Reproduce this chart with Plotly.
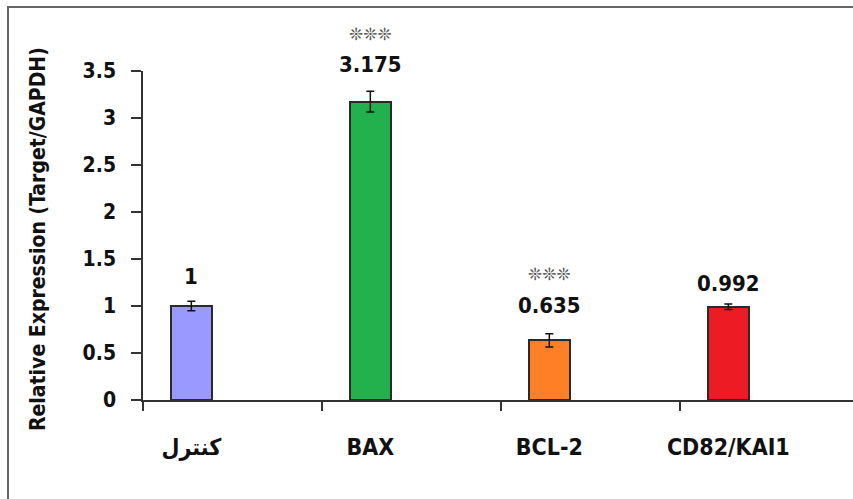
import plotly.graph_objects as go

categories = ["كنترل", "BAX", "BCL-2", "CD82/KAI1"]
values = [1.0, 3.175, 0.635, 0.992]
errors = [0.05, 0.11, 0.07, 0.03]
value_labels = ["1", "3.175", "0.635", "0.992"]
significance = ["", "❊❊❊", "❊❊❊", ""]
colors = ["#9999FF", "#22B14C", "#FF7F27", "#ED1C24"]
y_ticks = [0, 0.5, 1, 1.5, 2, 2.5, 3, 3.5]
y_ticktext = ["0", "0.5", "1", "1.5", "2", "2.5", "3", "3.5"]

W, H = 853, 499
ML, MR, MT, MB = 143, 0, 71, 99
FONT = "DejaVu Sans Condensed, DejaVu Sans, sans-serif"

bar_offset = 0.27  # bar centre within category slot
bar_width = 0.23
xpos = [i + bar_offset for i in range(len(categories))]

label_shift = [30, 37, 35, 23]
star_shift = [0, 68, 66, 0]

fig = go.Figure()
fig.add_trace(go.Bar(
    x=xpos, y=values, width=bar_width,
    marker=dict(color=colors, line=dict(color="#2a2a2a", width=2)),
    error_y=dict(type="data", array=errors, visible=True,
                 color="#111111", thickness=1.5, width=4),
    hoverinfo="skip",
))

annotations = []
for xp, v, lab, sh in zip(xpos, values, value_labels, label_shift):
    annotations.append(dict(x=xp, y=v, xref="x", yref="y", text=lab,
                            showarrow=False, yshift=sh, xanchor="center", yanchor="middle",
                            font=dict(family=FONT, size=22, color="#111111", weight="bold")))
for xp, v, s, sh in zip(xpos, values, significance, star_shift):
    if s:
        annotations.append(dict(x=xp, y=v, xref="x", yref="y", text=s,
                                showarrow=False, yshift=sh, xanchor="center", yanchor="middle",
                                font=dict(family="DejaVu Sans, sans-serif", size=17, color="#555555")))

plot_w = W - ML - MR
plot_h = H - MT - MB
annotations.append(dict(text="Relative Expression (Target/GAPDH)", textangle=-90,
                        xref="paper", yref="paper",
                        x=(38 - ML) / plot_w, y=(H - MB - 239) / plot_h,
                        showarrow=False, xanchor="center", yanchor="middle",
                        font=dict(family=FONT, size=21, color="#111111", weight="bold")))

xmax = plot_w / 179.0

fig.update_layout(
    width=W, height=H,
    margin=dict(l=ML, r=MR, t=MT, b=MB),
    paper_bgcolor="white", plot_bgcolor="white",
    showlegend=False,
    bargap=0,
    annotations=annotations,
    xaxis=dict(range=[0, xmax], tickmode="array", tickvals=xpos, ticktext=categories,
               ticks="", showline=True, linecolor="#333333", linewidth=1.5,
               showgrid=False, zeroline=False,
               tickfont=dict(family=FONT, size=23, color="#111111", weight="bold"),
               ticklabelstandoff=26,
               minor=dict(tickmode="array", tickvals=[0, 1, 2, 3, 4], ticks="outside",
                          ticklen=9, tickwidth=1.5, tickcolor="#333333", showgrid=False)),
    yaxis=dict(range=[0, 3.5], tickmode="array", tickvals=y_ticks, ticktext=y_ticktext,
               ticks="outside", ticklen=10, tickwidth=1.5, tickcolor="#333333",
               showline=True, linecolor="#333333", linewidth=1.5,
               showgrid=False, zeroline=False,
               tickfont=dict(family=FONT, size=21, color="#111111", weight="bold"),
               ticklabelstandoff=11),
    shapes=[dict(type="rect", xref="paper", yref="paper",
                 x0=(8 - ML) / plot_w, x1=1.2,
                 y0=-0.6, y1=(H - MB - 7) / plot_h,
                 line=dict(color="#666666", width=2), fillcolor="rgba(0,0,0,0)", layer="above")],
)

fig.write_html("out.html")
